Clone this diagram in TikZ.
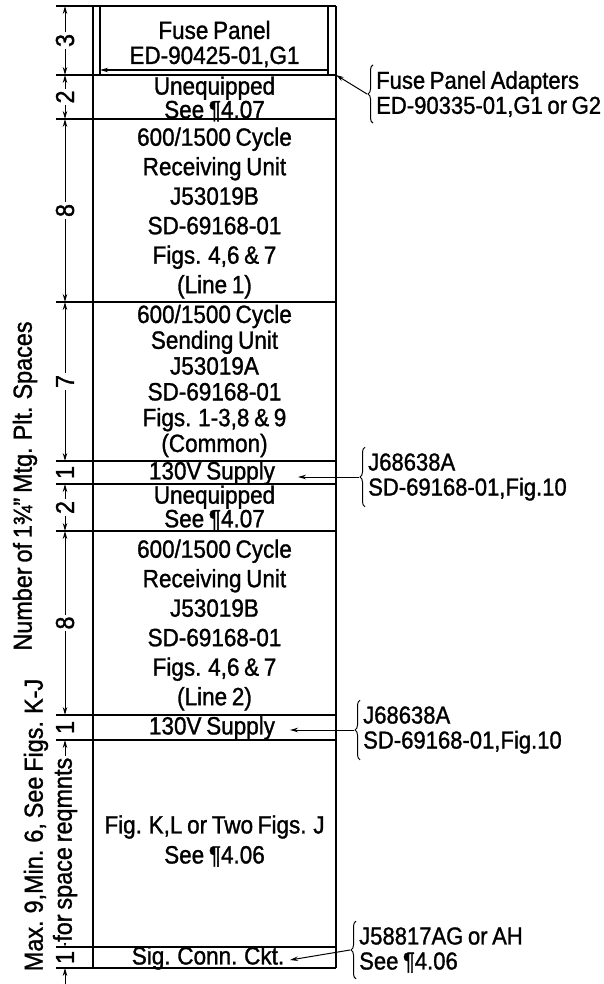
\documentclass[tikz,border=0pt]{standalone}
\usepackage{fontspec}
\setmainfont{Liberation Sans}[FakeStretch=0.9, FakeBold=1.2, WordSpace=0.75]
\usetikzlibrary{arrows.meta, decorations.pathreplacing}

\begin{document}
\begin{tikzpicture}[
  >={Stealth[length=8pt, width=4.5pt]}, x=1pt, y=-1pt,
  frame/.style={line width=1.7pt},
  rule/.style={line width=1.2pt},
  dimline/.style={<->, line width=1pt},
  dimnum/.style={rotate=90, fill=white, inner sep=1.5pt,
                 font=\fontsize{26}{26}\selectfont},
  unitbox/.style={align=center, inner sep=0pt, font=\fontsize{25}{#1}\selectfont},
  unitbox/.default=29.5,
  note/.style={anchor=west, align=left, inner xsep=0pt, inner ysep=6pt,
               font=\fontsize{24.5}{25}\selectfont},
  curly/.style={decorate, decoration={brace, amplitude=5pt}, line width=1pt},
  callout/.style={->, line width=1pt}
]
\useasboundingbox (0,0) rectangle (604,984);

\def\xL{93} \def\xR{336} \def\xM{214.5} \def\xD{65} \def\xE{56}

% rows of the bay, in 1 3/4" spaces
\foreach \n/\y in {0/6,1/75,2/119,3/302,4/461,5/484,6/531,7/715,8/740,9/947,10/968}{
  \coordinate (e\n) at (\xE,\y);
  \coordinate (d\n) at (\xD,\y);
  \coordinate (r\n) at (\xR,\y);
  \draw[rule] (e\n) -- (r\n);
}
\draw[frame] (\xL,6) -- (\xL,968) (\xR,6) -- (\xR,968);
\draw[rule] (\xL+7,6) -- (\xL+7,75) (\xR-8,6) -- (\xR-8,75);
\draw[rule, ->] (\xR-8,70) -- (\xL+7,70);

% dimensions
\foreach \a/\b/\k in {0/1/3,1/2/2,2/3/8,3/4/7,5/6/2,6/7/8}{
  \draw[dimline] (d\a) -- node[dimnum](n\a){\k} (d\b);
}
\foreach \a/\b in {4/5,7/8,9/10}{
  \path (d\a) -- node[dimnum](n\a){1} (d\b);
}
\draw[dimline] (d8) -- node[dimnum, pos=0.53](n8){for space reqmnts} (d9);
\coordinate (dz) at (\xD,984);
\draw[callout] (dz) -- (d10);

\node[dimnum, fill=none](maxmin) at (36,825) {Max. 9,Min. 6, See Figs. K-J};
\node[dimnum, fill=none](mtg) at (25,486) {Number of 1¾" Mtg. Plt. Spaces};

% units
\node[unitbox=25](fuse) at (\xM,44) {Fuse Panel\\ED-90425-01,G1};
\node[unitbox=17.5](uneqA) at (\xM,99) {Unequipped\\See ¶4.07};
\node[unitbox](recvA) at (\xM,213)
  {600/1500 Cycle\\Receiving Unit\\J53019B\\SD-69168-01\\Figs. 4,6 \& 7\\(Line 1)};
\node[unitbox=25.8](send) at (\xM,381)
  {600/1500 Cycle\\Sending Unit\\J53019A\\SD-69168-01\\Figs. 1-3,8 \& 9\\(Common)};
\node[unitbox](suppA) at (212,473) {130V Supply};
\node[unitbox=18.5](uneqB) at (\xM,508) {Unequipped\\See ¶4.07};
\node[unitbox](recvB) at (\xM,625)
  {600/1500 Cycle\\Receiving Unit\\J53019B\\SD-69168-01\\Figs. 4,6 \& 7\\(Line 2)};
\node[unitbox](suppB) at (212,728) {130V Supply};
\node[unitbox=30](figk) at (\xM,841) {Fig. K,L or Two Figs. J\\See ¶4.06};
\node[unitbox](sigc) at (208,958) {Sig. Conn. Ckt.};

% equipment notes
\node[note](adp) at (376,94) {Fuse Panel Adapters\\ED-90335-01,G1 or G2};
\node[note](jA) at (368,477) {J68638A\\SD-69168-01,Fig.10};
\node[note](jB) at (363,730) {J68638A\\SD-69168-01,Fig.10};
\node[note](jC) at (359,950) {J58817AG or AH\\See ¶4.06};

\foreach \n in {adp,jA,jB,jC}
  \draw[curly] ([xshift=-3pt]\n.south west) -- ([xshift=-3pt]\n.north west);

\coordinate (tB) at (298,477);
\coordinate (tC) at (290,730);
\coordinate (tD) at (290,960);
\draw[callout] ([xshift=-9pt]adp.west) -- (r1);
\draw[callout] ([xshift=-9pt]jA.west) -- (tB);
\draw[callout] ([xshift=-9pt]jB.west) -- (tC);
\draw[callout] ([xshift=-9pt]jC.west) -- (tD);
\end{tikzpicture}
\end{document}
